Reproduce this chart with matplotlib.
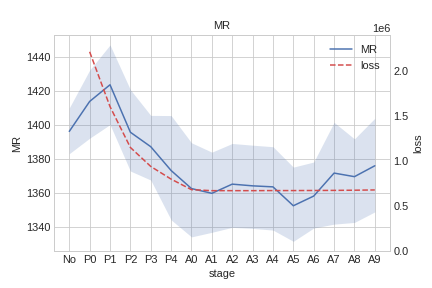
import numpy as np
import matplotlib
matplotlib.use('Agg')
from matplotlib import pyplot as plt

stages = ['No', 'P0', 'P1', 'P2', 'P3', 'P4', 'A0', 'A1', 'A2', 'A3',
          'A4', 'A5', 'A6', 'A7', 'A8', 'A9']
mr_mean = [1396.0, 1413.6, 1423.4, 1395.5, 1387.0, 1373.0, 1362.4, 1359.6,
           1365.0, 1364.0, 1363.4, 1352.3, 1358.0, 1371.5, 1369.4, 1375.8]
mr_upper = [1409.8, 1432.0, 1446.8, 1420.5, 1405.4, 1405.3, 1389.3, 1383.8,
            1388.9, 1387.9, 1387.0, 1375.0, 1378.0, 1401.3, 1391.6, 1403.7]
mr_lower = [1382.9, 1392.0, 1400.0, 1372.7, 1367.4, 1344.0, 1334.0, 1336.7,
            1339.6, 1339.0, 1338.0, 1331.4, 1339.2, 1341.5, 1342.5, 1348.7]
loss_stages = stages[1:]
loss = [2.215e6, 1.606e6, 1.152e6, 0.941e6, 0.800e6, 0.683e6, 0.672e6,
        0.672e6, 0.672e6, 0.673e6, 0.673e6, 0.674e6, 0.675e6, 0.677e6, 0.680e6]

plt.style.use('seaborn-v0_8-whitegrid')
plt.rcParams.update({'font.size': 11, 'xtick.labelsize': 11,
                     'ytick.labelsize': 11, 'axes.labelsize': 11,
                     'axes.titlesize': 11, 'legend.fontsize': 11,
                     'grid.color': '#c8c8c8'})
fig = plt.figure(figsize=(6, 4), dpi=72)
ax = fig.add_subplot(111)
fig.subplots_adjust(left=0.125, right=0.903, top=0.878, bottom=0.128)

x = np.arange(len(stages))
ax.fill_between(x, mr_lower, mr_upper, color='#4c72b0', alpha=0.2, linewidth=0)
l1, = ax.plot(x, mr_mean, color='#4c72b0', lw=1.5, label='MR')
ax.set_xticks(x)
ax.set_xticklabels(stages)
ax.set_xlim(-0.75, len(stages) - 0.25)
ax.set_xlabel('stage')
ax.set_ylabel('MR')
ax.set_title('MR')

ax2 = ax.twinx()
xl = np.arange(1, len(stages))
l2, = ax2.plot(xl, loss, '--', color='#d44c4c', lw=1.5, label='loss')
ax2.set_ylim(0, 2.4e6)
ax2.set_ylabel('loss')
ax2.grid(False)

ax.legend(handles=[l1, l2], loc='upper right', frameon=False)
plt.savefig('out.png', dpi=72)
